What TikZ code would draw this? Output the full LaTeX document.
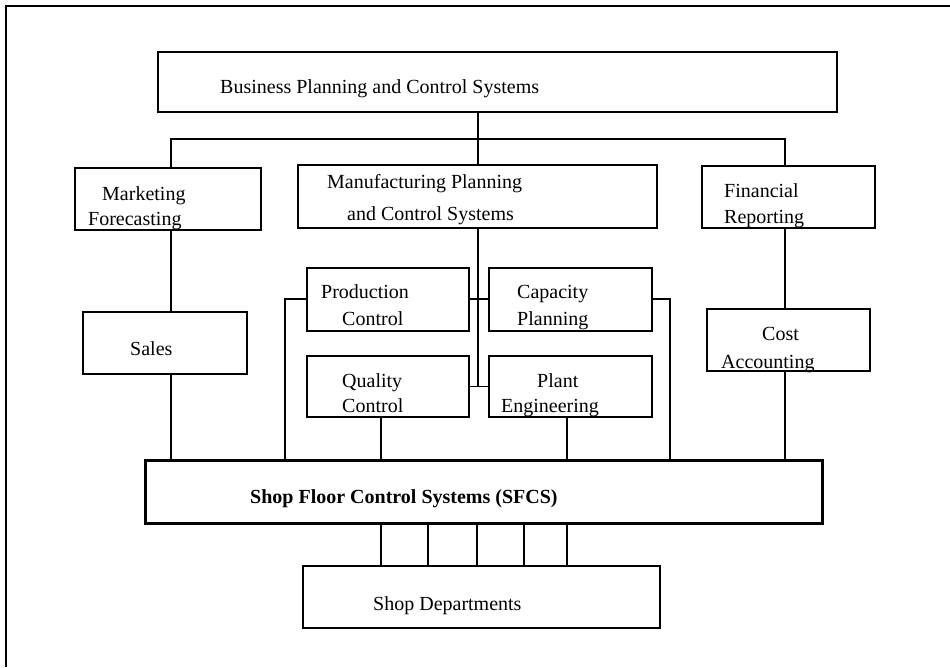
\documentclass[tikz,border=0pt]{standalone}
\usepackage{fontspec}
\setmainfont{Liberation Serif}
\usetikzlibrary{positioning}
\tikzset{
  block/.style={draw=black, line width=2pt, inner sep=0pt, fill=none},
  mainblock/.style={draw=black, line width=3pt, inner sep=0pt, fill=none},
  wire/.style={line width=1.8pt, draw=black},
  txt/.style={anchor=base west, inner sep=0pt, font=\fontsize{20}{24}\selectfont},
  boldtxt/.style={txt, font=\fontsize{20}{24}\selectfont\bfseries}
}

\begin{document}
\begin{tikzpicture}[x=1pt, y=-1pt]
  \useasboundingbox (0,0) rectangle (950,667);
  % frame of the scan
  \draw[wire] (950,6) -- (6,6) -- (6,667);

  % boxes
  \node[block, minimum width=679pt, minimum height=60pt] (bpcs) at (497.5,82) {};
  \node[block, minimum width=186pt, minimum height=62pt] (mkt) at (168,199) {};
  \node[block, minimum width=359pt, minimum height=63pt] (mpcs) at (477.5,196.5) {};
  \node[block, minimum width=173pt, minimum height=62pt] (fin) at (788.5,197) {};
  \node[block, minimum width=164pt, minimum height=62pt] (sales) at (165,343) {};
  \node[block, minimum width=162pt, minimum height=63pt] (prod) at (388,299) {};
  \node[block, minimum width=163pt, minimum height=63pt] (cap) at (570.5,299) {};
  \node[block, minimum width=162pt, minimum height=61pt] (qual) at (388,386.5) {};
  \node[block, minimum width=163pt, minimum height=61pt] (plant) at (570.5,386.5) {};
  \node[block, minimum width=163pt, minimum height=62pt] (cost) at (788.5,340) {};
  \node[mainblock, minimum width=677pt, minimum height=63pt] (sfcs) at (483.5,491.5) {};
  \node[block, minimum width=357pt, minimum height=62pt] (shop) at (481.5,597) {};

  % labels
  \node[txt] (bpcs-t) at (220,93) {Business Planning and Control Systems};
  \node[txt] (mkt-t1) at (102,200) {Marketing};
  \node[txt] (mkt-t2) at (88,225) {Forecasting};
  \node[txt] (mpcs-t1) at (327,188) {Manufacturing Planning};
  \node[txt] (mpcs-t2) at (347,220) {and Control Systems};
  \node[txt] (fin-t1) at (724,197) {Financial};
  \node[txt] (fin-t2) at (724,223) {Reporting};
  \node[txt] (sales-t) at (130,355) {Sales};
  \node[txt] (prod-t1) at (321,298) {Production};
  \node[txt] (prod-t2) at (342,325) {Control};
  \node[txt] (cap-t1) at (517,298) {Capacity};
  \node[txt] (cap-t2) at (517,325) {Planning};
  \node[txt] (qual-t1) at (342,387) {Quality};
  \node[txt] (qual-t2) at (342,412) {Control};
  \node[txt] (plant-t1) at (537,387) {Plant};
  \node[txt] (plant-t2) at (501,412) {Engineering};
  \node[txt] (cost-t1) at (762,340) {Cost};
  \node[txt] (cost-t2) at (721,368) {Accounting};
  \node[boldtxt] (sfcs-t) at (250,503) {Shop Floor Control Systems (SFCS)};
  \node[txt] (shop-t) at (373,610) {Shop Departments};

  % bus under the top box
  \coordinate (busL) at (171,139);
  \coordinate (busM) at (478,139);
  \coordinate (busR) at (785,139);
  \coordinate (loopL) at (285,440);
  \coordinate (loopR) at (670,440);
  \coordinate (dropQ) at (381,440);
  \coordinate (dropP) at (567,440);

  \draw[wire] (bpcs.south -| busM) -- (mpcs.north -| busM);
  \draw[wire] (mkt.north -| busL) -- (busL) -- (busR) -- (fin.north -| busR);
  \draw[wire] (mkt.south -| busL) -- (sales.north -| busL);
  \draw[wire] (sales.south -| busL) -- (sfcs.north -| busL);
  \draw[wire] (fin.south -| busR) -- (cost.north -| busR);
  \draw[wire] (cost.south -| busR) -- (sfcs.north -| busR);

  % manufacturing group
  \draw[wire] (mpcs.south -| busM) -- (busM |- qual.east);
  \draw[wire] (prod.east) -- (cap.west);
  \draw[wire] (qual.east) -- (plant.west);
  \draw[wire] (prod.west) -- (prod.west -| loopL) -- (loopL |- sfcs.north);
  \draw[wire] (cap.east) -- (cap.east -| loopR) -- (loopR |- sfcs.north);
  \draw[wire] (qual.south -| dropQ) -- (sfcs.north -| dropQ);
  \draw[wire] (plant.south -| dropP) -- (sfcs.north -| dropP);

  % links to the shop departments
  \foreach \x in {381,428,477,524,567} {
    \coordinate (d\x) at (\x,545);
    \draw[wire] (sfcs.south -| d\x) -- (shop.north -| d\x);
  }
\end{tikzpicture}
\end{document}
